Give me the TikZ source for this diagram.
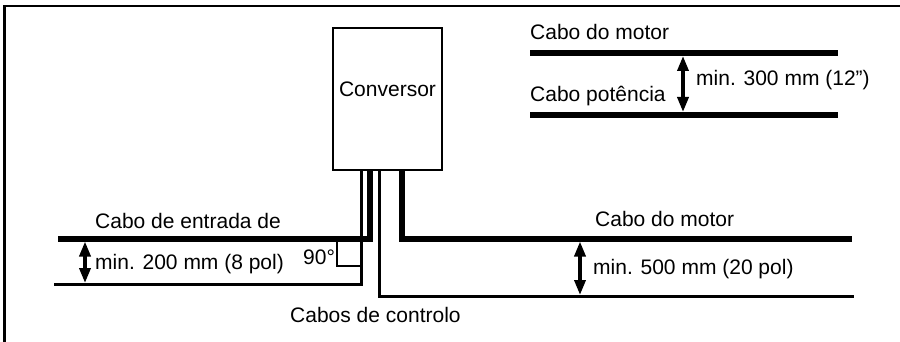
\documentclass[tikz,border=0pt]{standalone}
\usepackage{fontspec}
\setmainfont{Liberation Sans}
\usetikzlibrary{positioning, arrows.meta}
\tikzset{thickcable/.style={line width=5.5pt},
         thincable/.style={line width=3pt},
         spacing/.style={{Triangle[length=15pt,width=11pt]}-{Triangle[length=15pt,width=11pt]}, line width=3.5pt},
         txt/.style={anchor=base west, inner sep=0pt},
        }

\begin{document}
\begin{tikzpicture}[x=1pt,y=-1pt,font=\fontsize{21}{25}\selectfont]
        \useasboundingbox (0,0) rectangle (900,342);
        \draw[line width=2.2pt](4.5,342)--(4.5,6)--(900,6);

        \node[draw, line width=1.5pt, minimum width=109pt, minimum height=142pt, inner sep=0pt](conv)at(387.5,99){};
        \node[anchor=base, inner sep=0pt](convtxt)at(387.5,97){Conversor};

        % cables leaving the converter
        \coordinate(inA)at(54,284);
        \coordinate(inB)at(58,239);
        \coordinate(ctrl)at(854,296);
        \coordinate(mot)at(852,239);
        \draw[thincable]([xshift=-26.5pt]conv.south)|-(inA);
        \draw[thickcable]([xshift=-17.5pt]conv.south)|-(inB);
        \draw[thincable]([xshift=-8.5pt]conv.south)|-(ctrl);
        \draw[thickcable]([xshift=14.5pt]conv.south)|-(mot);
        \draw[line width=1.5pt](337,241)|-(361,266);

        \node[txt](inlbl)at(95,229){Cabo de entrada de};
        \node[txt](ang)at(303,264){90°};
        \node[txt](ctrllbl)at(290,322){Cabos de controlo};
        \node[txt](motlbl)at(595,226){Cabo do motor};

        \coordinate(d1a)at(85,241.5);
        \coordinate(d1b)at(85,283);
        \coordinate(d2a)at(580,241.5);
        \coordinate(d2b)at(580,295);
        \draw[spacing](d1a)--(d1b);
        \draw[spacing](d2a)--(d2b);
        \node[txt](dist1)at(95,269){min. 200 mm (8 pol)};
        \node[txt](dist2)at(593,274){min. 500 mm (20 pol)};

        % legend
        \coordinate(l1a)at(530,53);
        \coordinate(l1b)at(838,53);
        \coordinate(l2a)at(530,115);
        \coordinate(l2b)at(838,115);
        \draw[thickcable](l1a)--(l1b);
        \draw[thickcable](l2a)--(l2b);
        \node[txt](leg1)at(530,40){Cabo do motor};
        \node[txt](leg2)at(530,102){Cabo potência};
        \coordinate(d3a)at(683,56);
        \coordinate(d3b)at(683,112);
        \draw[spacing](d3a)--(d3b);
        \node[txt](dist3)at(696,86){min. 300 mm (12”)};
    \end{tikzpicture}
\end{document}
